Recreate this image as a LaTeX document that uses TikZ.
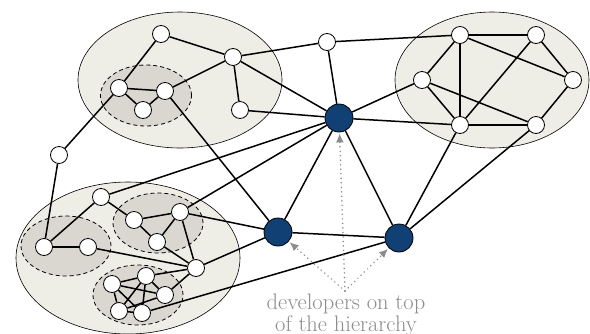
\documentclass[tikz,border=0pt]{standalone}
\usetikzlibrary{arrows.meta}
\pgfdeclarelayer{ell}
\pgfdeclarelayer{edges}
\pgfsetlayers{ell,edges,main}
\definecolor{devblue}{RGB}{16,64,116}
\definecolor{outerfill}{RGB}{238,237,230}
\definecolor{innerfill}{RGB}{218,214,208}
\definecolor{notegray}{RGB}{140,140,140}
\begin{document}
\begin{tikzpicture}[x=1pt,y=-1pt,
  wnode/.style={circle,draw=black,fill=white,line width=0.8pt,minimum size=17pt,inner sep=0pt},
  bnode/.style={circle,draw=black,fill=devblue,line width=0.8pt,minimum size=28pt,inner sep=0pt},
  link/.style={line width=1.5pt,black},
  outer/.style={draw=black,fill=outerfill,line width=0.6pt},
  inner/.style={draw=black,fill=innerfill,line width=0.8pt,dash pattern=on 4pt off 3pt},
  pointer/.style={draw=notegray,line width=1.7pt,dash pattern=on 0.01pt off 4.5pt,line cap=round,shorten >=1pt,-{Latex[length=9pt,width=8pt,fill=notegray,line cap=butt]}}
]
\useasboundingbox (0,0) rectangle (590,333);
% nodes top-left
\node[wnode] (a1) at (161,34) {};
\node[wnode] (a2) at (233,57) {};
\node[wnode] (a3) at (119,88) {};
\node[wnode] (a4) at (165,91) {};
\node[wnode] (a5) at (143,110) {};
\node[wnode] (a6) at (240,110) {};
\node[wnode] (L) at (59,155) {};
\node[wnode] (n) at (327,42) {};
% right cluster
\node[wnode] (r1) at (460,35) {};
\node[wnode] (r2) at (536,35) {};
\node[wnode] (r3) at (422,80) {};
\node[wnode] (r4) at (573,80) {};
\node[wnode] (r5) at (460,125) {};
\node[wnode] (r6) at (536,125) {};
% developers
\node[bnode] (d1) at (339,118) {};
\node[bnode] (d2) at (278,232) {};
\node[bnode] (d3) at (399,238) {};
% bottom-left
\node[wnode] (b1) at (101,197) {};
\node[wnode] (b2) at (44,247) {};
\node[wnode] (b3) at (88,247) {};
\node[wnode] (b4) at (134,220) {};
\node[wnode] (b5) at (180,212) {};
\node[wnode] (b6) at (157,242) {};
\node[wnode] (b7) at (196,268) {};
\node[wnode] (b8) at (112,284) {};
\node[wnode] (b9) at (146,276) {};
\node[wnode] (b10) at (165,295) {};
\node[wnode] (b11) at (119,311) {};
\node[wnode] (b12) at (142,313) {};
% note
\node[text=notegray,font=\fontsize{22.5}{19.5}\selectfont,align=center,inner sep=0pt,anchor=north] (note) at (346,294) {developers on top\\of the hierarchy};
\coordinate (src) at (345,291);
\begin{pgfonlayer}{ell}
\draw[outer] (180,80) ellipse [x radius=102pt,y radius=68pt];
\draw[outer] (492,80) ellipse [x radius=97pt,y radius=68pt];
\draw[outer] (128,258) ellipse [x radius=112pt,y radius=76pt];
\draw[inner] (146,95.5) ellipse [x radius=45.5pt,y radius=30.5pt];
\draw[inner] (66,246) ellipse [x radius=45pt,y radius=30pt];
\draw[inner] (158,223) ellipse [x radius=45pt,y radius=30pt];
\draw[inner] (138,295) ellipse [x radius=45pt,y radius=30pt];
\end{pgfonlayer}
\begin{pgfonlayer}{edges}
\foreach \u/\v in {a1/a2,a1/a3,a3/a4,a3/a5,a4/a5,a4/a2,a2/a6,a2/n,a2/d1,a6/d1,a3/L,a4/d2,
  n/r1,n/d1,r1/r2,r1/r3,r1/r5,r1/r4,r2/r4,r2/r5,r3/r5,r3/r6,r5/r6,r4/r6,d1/r3,d1/r5,
  d1/d2,d1/d3,d2/d3,d3/r5,d3/r6,
  L/b2,b2/b3,b2/b1,b1/b4,b1/d1,b4/b5,b4/b6,b5/b6,b5/b7,b6/b7,b5/d1,b5/d2,b3/b7,b7/d2,
  b7/b9,b7/b10,b8/b9,b8/b10,b8/b11,b8/b12,b9/b11,b9/b12,b9/b10,b11/b12,b10/b11,b12/d3}
  \draw[link] (\u) -- (\v);
\draw[pointer] (src) -- (d1);
\draw[pointer] (src) -- (d2);
\draw[pointer] (src) -- (d3);
\end{pgfonlayer}
\end{tikzpicture}
\end{document}
